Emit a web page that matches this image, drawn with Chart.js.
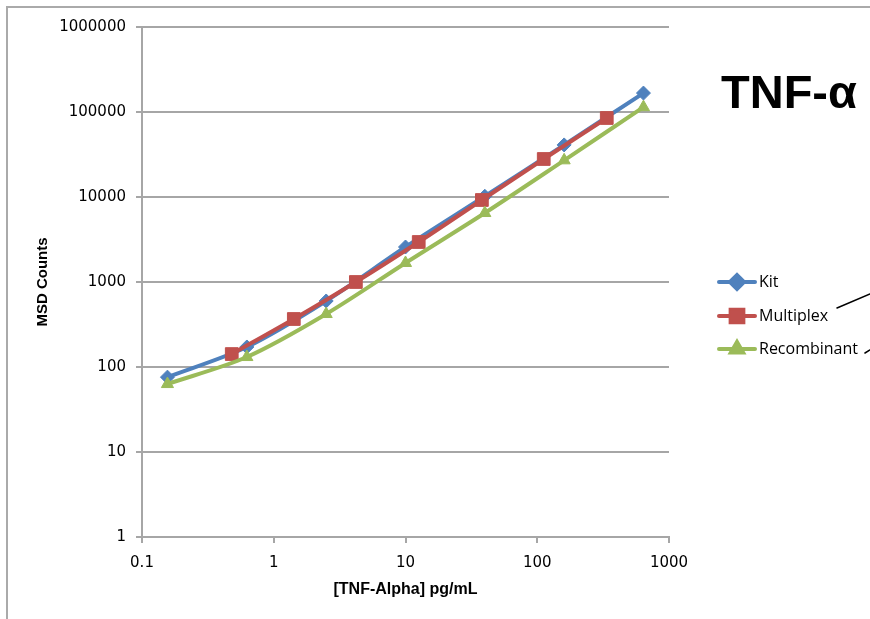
<!DOCTYPE html>
<html>
<head>
<meta charset="utf-8">
<script src="https://cdn.jsdelivr.net/npm/chart.js@4.4.1/dist/chart.umd.min.js"></script>
<style>
  body { margin: 0; background: #fff; }
  #wrap { position: relative; width: 870px; height: 619px; }
</style>
</head>
<body>
<div id="wrap"><canvas id="myChart"></canvas></div>
<script>
// concentrations (pg/mL) and MSD counts
var kitX = [0.156, 0.625, 2.5, 10, 40, 160, 640];
var kitY = [76, 172, 598, 2580, 10200, 41000, 167000];
var multiplexX = [0.48, 1.42, 4.2, 12.6, 38, 112, 337];
var multiplexY = [142, 367, 1000, 2955, 9220, 28000, 85000];
var recombinantX = [0.156, 0.625, 2.5, 10, 40, 160, 640];
var recombinantY = [63, 131, 420, 1674, 6480, 27000, 114000];

var seriesNames = ["Kit", "Multiplex", "Recombinant"];
var xTicks = [0.1, 1, 10, 100, 1000];
var yTicks = [1, 10, 100, 1000, 10000, 100000, 1000000];

var gridGrey = "#a6a6a6";

function toPoints(xs, ys) {
    var pts = [];
    for (var i = 0; i < xs.length; i++) {
        pts.push({ x: xs[i], y: ys[i] });
    }
    return pts;
}

// frame, big title, legend and the two callout strokes
var extras = {
    id: "extras",
    beforeDraw: function (chart) {
        var ctx = chart.ctx;
        ctx.save();
        ctx.strokeStyle = "#aaaaaa";
        ctx.lineWidth = 2;
        ctx.beginPath();
        ctx.moveTo(7, 619);
        ctx.lineTo(7, 7);
        ctx.lineTo(870, 7);
        ctx.stroke();
        ctx.restore();
    },
    afterDraw: function (chart) {
        var ctx = chart.ctx;
        ctx.save();

        ctx.fillStyle = "#000";
        ctx.font = "bold 47px 'Liberation Sans', Arial, sans-serif";
        ctx.textBaseline = "alphabetic";
        ctx.textAlign = "left";
        ctx.fillText("TNF-\u03b1", 721, 108);

        var rows = [282, 316, 349];
        chart.data.datasets.forEach(function (ds, i) {
            var y = rows[i];
            ctx.strokeStyle = ds.borderColor;
            ctx.lineWidth = 4;
            ctx.lineCap = "round";
            ctx.beginPath();
            ctx.moveTo(719, y);
            ctx.lineTo(755, y);
            ctx.stroke();
            Chart.helpers.drawPoint(ctx, {
                pointStyle: ds.pointStyle,
                radius: ds.pointRadius,
                borderWidth: 1
            }, 737, y);
            ctx.fillStyle = ds.backgroundColor;
            ctx.strokeStyle = ds.borderColor;
            ctx.lineWidth = 1;
            ctx.fill();
            ctx.stroke();

            ctx.fillStyle = "#000";
            ctx.font = "16px 'Open Sans', sans-serif";
            ctx.textBaseline = "middle";
            ctx.fillText(ds.label, 759, y);
        });

        ctx.strokeStyle = "#000";
        ctx.lineWidth = 1.5;
        ctx.beginPath();
        ctx.moveTo(837, 308);
        ctx.lineTo(870, 294);
        ctx.moveTo(865, 353);
        ctx.lineTo(870, 350);
        ctx.stroke();
        ctx.restore();
    }
};

var chartData = {
    datasets: [{
        label: seriesNames[0],
        data: toPoints(kitX, kitY),
        borderColor: "#4f81bd",
        backgroundColor: "#4f81bd",
        pointStyle: "rectRot",
        pointRadius: 7,
        order: 3
    }, {
        label: seriesNames[1],
        data: toPoints(multiplexX, multiplexY),
        borderColor: "#c0504d",
        backgroundColor: "#c0504d",
        pointStyle: "rect",
        pointRadius: 9,
        order: 2
    }, {
        label: seriesNames[2],
        data: toPoints(recombinantX, recombinantY),
        borderColor: "#9bbb59",
        backgroundColor: "#9bbb59",
        pointStyle: "triangle",
        pointRadius: 7,
        order: 1
    }]
};

new Chart(document.getElementById("myChart"), {
    type: "scatter",
    data: chartData,
    plugins: [extras],
    options: {
        responsive: true,
        maintainAspectRatio: false,
        animation: false,
        layout: { padding: { top: 27, right: 201, left: 0, bottom: 0 } },
        elements: {
            line: { borderWidth: 4, tension: 0.3 },
            point: { borderWidth: 1, hoverRadius: 6 }
        },
        datasets: { scatter: { showLine: true } },
        plugins: {
            legend: { display: false },
            tooltip: { enabled: false }
        },
        scales: {
            x: {
                type: "logarithmic",
                min: 0.1,
                max: 1000,
                afterFit: function (scale) { scale.height = 82; },
                afterBuildTicks: function (scale) {
                    scale.ticks = xTicks.map(function (v) { return { value: v }; });
                },
                border: { color: gridGrey, width: 2 },
                grid: { drawOnChartArea: false, drawTicks: true, tickLength: 6, color: gridGrey, lineWidth: 2 },
                ticks: {
                    color: "#000",
                    padding: 11,
                    maxRotation: 0,
                    font: { family: "'DejaVu Sans'", size: 15 },
                    callback: function (v) { return String(v); }
                },
                title: {
                    display: true,
                    text: "[TNF-Alpha] pg/mL",
                    color: "#000",
                    font: { family: "'Liberation Sans'", size: 16, weight: "bold" },
                    padding: { top: 0, bottom: 20 }
                }
            },
            y: {
                type: "logarithmic",
                min: 1,
                max: 1000000,
                afterFit: function (scale) { scale.width = 142; },
                afterBuildTicks: function (scale) {
                    scale.ticks = yTicks.map(function (v) { return { value: v }; });
                },
                border: { color: gridGrey, width: 2 },
                grid: { color: gridGrey, lineWidth: 2, tickLength: 6 },
                ticks: {
                    color: "#000",
                    padding: 10,
                    font: { family: "'DejaVu Sans'", size: 15 },
                    callback: function (v) { return String(v); }
                },
                title: {
                    display: true,
                    text: "MSD Counts",
                    color: "#000",
                    font: { family: "'Liberation Sans'", size: 15, weight: "bold" },
                    padding: { top: 34, bottom: 0 }
                }
            }
        }
    }
});
</script>
</body>
</html>
